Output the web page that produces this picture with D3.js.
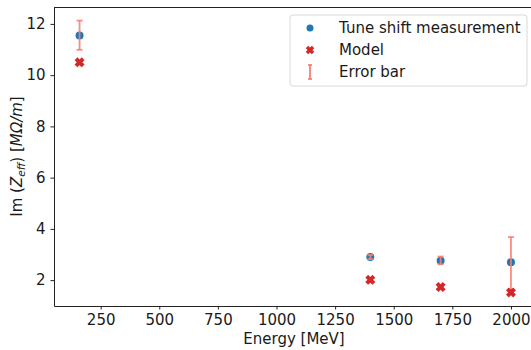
<!DOCTYPE html>
<html>
<head>
<meta charset="utf-8">
<script src="https://cdn.jsdelivr.net/npm/d3@7"></script>
<style>
  body { margin: 0; background: #fff; }
  svg { display: block; font-family: "DejaVu Sans", sans-serif; }
</style>
</head>
<body>
<figure id="chart" style="margin:0"></figure>
<script>
// data
const energies = [160, 1400, 1700, 2000];
const measured = [11.55, 2.90, 2.76, 2.70];
const errLow = [10.99, 2.82, 2.62, 1.55];
const errHigh = [12.13, 2.98, 2.92, 3.68];
const model = [10.50, 2.01, 1.73, 1.52];
const xTicks = [250, 500, 750, 1000, 1250, 1500, 1750, 2000];
const yTicks = [2, 4, 6, 8, 10, 12];
const legendLabels = ["Tune shift measurement", "Model", "Error bar"];

const width = 531, height = 350;
const margin = { left: 54, top: 7, right: -2, bottom: 44 };
const fs = "15px";

const svg = d3.select("figure#chart")
  .append("svg")
  .attr("width", width)
  .attr("height", height);

const x = d3.scaleLinear()
  .domain([51, 2094])
  .range([margin.left, width - margin.right]);

const y = d3.scaleLinear()
  .domain([0.99, 12.66])
  .range([height - margin.bottom, margin.top]);

// axes
const xAxis = svg.append("g")
  .attr("transform", "translate(0," + (height - margin.bottom) + ")")
  .call(d3.axisBottom(x).tickValues(xTicks).tickFormat(d3.format("d"))
    .tickSize(3.5).tickPadding(5).tickSizeOuter(0));
const yAxis = svg.append("g")
  .attr("transform", "translate(" + margin.left + ",0)")
  .call(d3.axisLeft(y).tickValues(yTicks).tickFormat(d3.format("d"))
    .tickSize(3.5).tickPadding(5).tickSizeOuter(0));

[xAxis, yAxis].forEach(g => {
  g.selectAll("text").style("font-size", fs).style("font-family", "DejaVu Sans").attr("fill", "#1a1a1a");
  g.selectAll("line").attr("stroke", "#222");
  g.select(".domain").attr("stroke", "#222").attr("stroke-width", 1);
});

// top spine
svg.append("line")
  .attr("x1", margin.left).attr("x2", width)
  .attr("y1", margin.top + 0.5).attr("y2", margin.top + 0.5)
  .attr("stroke", "#222");

const pts = energies.map((e, i) => ({ e, m: measured[i], lo: errLow[i], hi: errHigh[i], mod: model[i] }));

// filled "X" marker like matplotlib
function xPath(s) {
  const a = s * 0.5, b = s * 0.28;
  return "M" + [[-a, -a + b], [-a + b, -a], [0, -b], [a - b, -a], [a, -a + b], [b, 0],
    [a, a - b], [a - b, a], [0, b], [-a + b, a], [-a, a - b], [-b, 0]].map(p => p.join(",")).join("L") + "Z";
}

// measurement points
svg.append("g").selectAll("circle")
  .data(pts).enter().append("circle")
  .attr("cx", d => x(d.e))
  .attr("cy", d => y(d.m))
  .attr("r", 4)
  .attr("fill", "#1f77b4");

// error bars
const err = svg.append("g").attr("stroke", "#fa8072").attr("stroke-width", 1.8).attr("stroke-opacity", 0.9);
err.selectAll("line.v").data(pts).enter().append("line")
  .attr("x1", d => x(d.e)).attr("x2", d => x(d.e))
  .attr("y1", d => y(d.lo)).attr("y2", d => y(d.hi));
err.selectAll("line.t").data(pts).enter().append("line")
  .attr("x1", d => x(d.e) - 3).attr("x2", d => x(d.e) + 3)
  .attr("y1", d => y(d.hi)).attr("y2", d => y(d.hi));
err.selectAll("line.b").data(pts).enter().append("line")
  .attr("x1", d => x(d.e) - 3).attr("x2", d => x(d.e) + 3)
  .attr("y1", d => y(d.lo)).attr("y2", d => y(d.lo));

// model points
svg.append("g").selectAll("path")
  .data(pts).enter().append("path")
  .attr("d", xPath(10))
  .attr("transform", d => "translate(" + x(d.e) + "," + y(d.mod) + ")")
  .attr("fill", "#d62728");

// axis labels
svg.append("text")
  .attr("x", 294).attr("y", 344)
  .attr("text-anchor", "middle")
  .style("font-size", fs)
  .attr("fill", "#1a1a1a")
  .text("Energy [MeV]");

const yl = svg.append("text")
  .attr("transform", "translate(22," + ((margin.top + height - margin.bottom) / 2) + ") rotate(-90)")
  .attr("text-anchor", "middle")
  .style("font-size", fs)
  .attr("fill", "#1a1a1a");
yl.append("tspan").text("Im (");
yl.append("tspan").attr("font-style", "italic").text("Z");
yl.append("tspan").attr("font-style", "italic").attr("font-size", "10.5px").attr("dy", 3).text("eff");
yl.append("tspan").attr("dy", -3).text(") [");
yl.append("tspan").attr("font-style", "italic").text("MΩ/m");
yl.append("tspan").text("]");

// legend
const lg = svg.append("g");
lg.append("rect")
  .attr("x", 290).attr("y", 15).attr("width", 237).attr("height", 71)
  .attr("rx", 3)
  .attr("fill", "#fff").attr("fill-opacity", 0.8)
  .attr("stroke", "#d9d9d9");
const rowY = [28, 50, 72];
lg.append("circle").attr("cx", 310).attr("cy", rowY[0]).attr("r", 3.5).attr("fill", "#1f77b4");
lg.append("path").attr("d", xPath(8.5)).attr("transform", "translate(310," + rowY[1] + ")").attr("fill", "#d62728");
const le = lg.append("g").attr("stroke", "#fa8072").attr("stroke-width", 1.8);
le.append("line").attr("x1", 310).attr("x2", 310).attr("y1", rowY[2] - 7).attr("y2", rowY[2] + 7);
le.append("line").attr("x1", 308).attr("x2", 312).attr("y1", rowY[2] - 7).attr("y2", rowY[2] - 7);
le.append("line").attr("x1", 308).attr("x2", 312).attr("y1", rowY[2] + 7).attr("y2", rowY[2] + 7);
lg.selectAll("text.l").data(legendLabels).enter().append("text")
  .attr("x", 339)
  .attr("y", (d, i) => rowY[i] + 5)
  .style("font-size", fs)
  .attr("fill", "#1a1a1a")
  .text(d => d);
</script>
</body>
</html>
